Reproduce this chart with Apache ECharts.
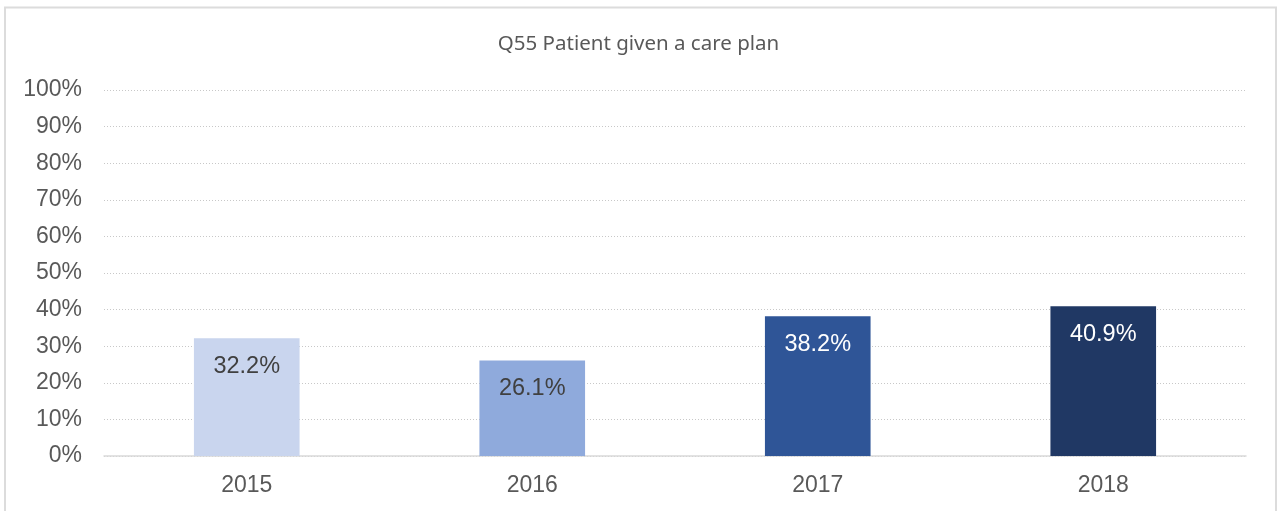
<!DOCTYPE html>
<html>
<head>
<meta charset="utf-8">
<style>
  html, body { margin: 0; padding: 0; background: #ffffff; }
  #chart { width: 1277px; height: 511px; }
</style>
<script src="https://cdn.jsdelivr.net/npm/echarts@6/dist/echarts.min.js"></script>
</head>
<body>
<div id="chart"></div>
<script>
const titleText = 'Q55 Patient given a care plan';
const years = ['2015', '2016', '2017', '2018'];
const values = [32.2, 26.1, 38.2, 40.9];
const barColors = ['#C9D5EE', '#8FAADC', '#2F5597', '#203864'];
const labelColors = ['#404040', '#404040', '#ffffff', '#ffffff'];

const chart = echarts.init(document.getElementById('chart'), null, { renderer: 'canvas' });

chart.setOption({
  animation: false,
  backgroundColor: '#ffffff',
  graphic: [{
    type: 'rect',
    shape: { x: 5, y: 7.5, width: 1271, height: 520 },
    style: { fill: 'none', stroke: '#dcdcdc', lineWidth: 2 },
    silent: true
  }],
  title: {
    text: titleText,
    left: 'center',
    top: 29,
    textStyle: { fontFamily: 'Noto Sans', fontSize: 20.5, fontWeight: 'normal', color: '#595959' }
  },
  grid: { left: 104, right: 31, top: 90, bottom: 55 },
  xAxis: {
    type: 'category',
    data: years,
    axisLine: { lineStyle: { color: '#d9d9d9', width: 1.5 } },
    axisTick: { show: false },
    axisLabel: { color: '#595959', fontFamily: 'Liberation Sans', fontSize: 23, margin: 18 }
  },
  yAxis: {
    type: 'value',
    min: 0,
    max: 100,
    interval: 10,
    axisLine: { show: false },
    axisTick: { show: false },
    axisLabel: {
      color: '#595959', fontFamily: 'Liberation Sans', fontSize: 23, margin: 22,
      lineHeight: 27, padding: [3, 0, 0, 0],
      formatter: v => v + '%'
    },
    splitLine: { lineStyle: { color: '#c8c8c8', type: [1, 2], width: 1 } }
  },
  series: [{
    type: 'bar',
    barWidth: '37%',
    data: values.map((v, i) => ({
      value: v,
      itemStyle: { color: barColors[i] },
      label: { color: labelColors[i] }
    })),
    label: {
      show: true,
      position: 'insideTop',
      distance: 16,
      fontFamily: 'Liberation Sans',
      fontSize: 23.5,
      formatter: p => p.value.toFixed(1) + '%'
    }
  }]
});
</script>
</body>
</html>
